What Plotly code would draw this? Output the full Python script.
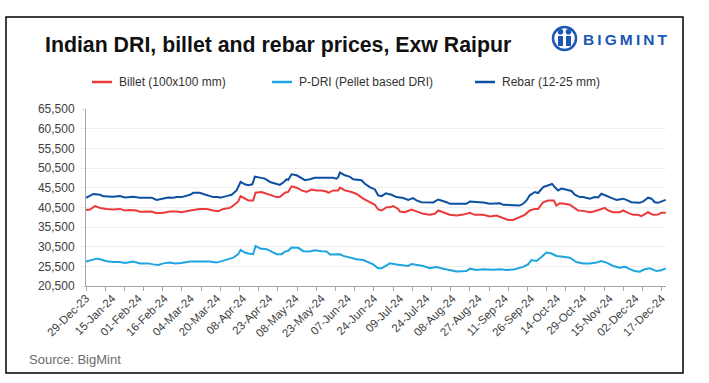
import plotly.graph_objects as go

# ---------------- data (x = trading-day position, 0 = 29-Dec-23) ----------------
tick_labels = ["29-Dec-23", "15-Jan-24", "01-Feb-24", "16-Feb-24", "04-Mar-24", "20-Mar-24",
               "08-Apr-24", "23-Apr-24", "08-May-24", "23-May-24", "07-Jun-24", "24-Jun-24",
               "09-Jul-24", "24-Jul-24", "08-Aug-24", "27-Aug-24", "11-Sep-24", "26-Sep-24",
               "14-Oct-24", "29-Oct-24", "15-Nov-24", "02-Dec-24", "17-Dec-24"]

billet_x = [0, 1.9, 4.2, 6.6, 9.7, 12.8, 15.9, 18.3, 20.6, 23.8, 25.3, 30.8, 33.1, 36.3, 39.4,
            42.5, 44.8, 47.2, 49.5, 53.4, 56.6, 59.7, 62, 64.4, 67.5, 69.1, 71.4, 72.5, 74.5, 76.1,
            78.4, 79.5, 82.3, 84.7, 87, 89.4, 90.9, 93.3, 94.8, 96.4, 98.8, 101.1, 103.4, 105.8, 108.1,
            110.5, 112.8, 113.6, 115.9, 118.3, 119.1, 121.4, 124.5, 126.9, 130, 133.1, 135.5, 137, 138.6, 141,
            142.5, 144.1, 146.4, 147.2, 149.5, 152.7, 155, 158.1, 161.3, 163.6, 165.2, 167.5, 170.6, 173.8, 176.9,
            180, 182.3, 186.3, 189.4, 192.5, 195.6, 198, 200.3, 201.9, 203.4, 205.8, 208.1, 210.5, 212, 214.4,
            216.7, 219.4, 220.6, 222.2, 224.5, 226.9, 229.2, 230.8, 233.1, 236.3, 238.6, 241.7, 243.3, 244.8, 247.2,
            250.3, 251.9, 254.2, 256.6, 258.9, 260.5, 263.6, 265.9, 268.3, 269.8, 271.9]
billet_y = [39850, 39950, 40800, 40350, 40050, 39950, 40100, 39700, 39850, 39700, 39350, 39450, 39000, 39100, 39450,
            39450, 39250, 39600, 39750, 40050, 40100, 39700, 39500, 40100, 40350, 40950, 42000, 43350, 42700, 42250,
            42250, 44200, 44400, 43950, 43350, 43100, 43100, 44200, 44400, 45850, 45500, 44800, 44400, 45000, 44800,
            44800, 44550, 44200, 44800, 44800, 45500, 44800, 44400, 43900, 42700, 41800, 41150, 39950, 39700, 40550,
            40550, 40800, 40100, 39450, 39250, 39950, 39450, 38850, 38600, 38850, 39700, 39250, 38600, 38400, 38650,
            39100, 38600, 38600, 38150, 38400, 37800, 37300, 37300, 37700, 38150, 38600, 39700, 40100, 40100, 41800,
            42250, 42250, 40950, 41550, 41400, 41150, 40300, 39700, 39600, 39250, 39500, 40100, 40350, 39700, 39250,
            39250, 39700, 39100, 38600, 38600, 38250, 39250, 38600, 38650, 39100, 39100]

pdri_x = [0, 1.9, 5, 6.6, 9.7, 12.8, 15.9, 18.3, 22.2, 25.3, 29.2, 31.6, 33.9, 36.3, 39.4, 41.7, 44.8, 48.8,
          53.4, 55.8, 58.1, 61.3, 63.6, 65.9, 69.1, 71.4, 72.5, 74.5, 76.1, 78.4, 79.5, 81.6, 84.7, 87, 89.4,
          91.7, 93.3, 94.8, 96.4, 99.5, 101.9, 105, 107.3, 110.5, 112.8, 114.4, 117.5, 119.1, 120.6, 123.8,
          126.9, 130, 132.3, 134.7, 137, 138.6, 141, 142.5, 145.6, 148.8, 151.1, 152.7, 155, 158.1, 161.3,
          164.4, 167.5, 170.6, 173.8, 178.4, 180, 183.1, 186.3, 190.9, 194.1, 197.2, 201.1, 205, 207.3, 208.9,
          211.3, 213.6, 215.9, 218.3, 220.6, 223.8, 226.9, 230, 233.1, 236.3, 239.4, 241.7, 244.1, 247.2, 250.3,
          252.7, 255, 257.3, 259.7, 262, 264.4, 267.5, 269.8, 271.9]
pdri_y = [26700, 27050, 27450, 27300, 26800, 26600, 26600, 26350, 26700, 26250, 26250, 26000, 25850, 26250, 26450,
          26250, 26350, 26700, 26700, 26600, 26700, 26450, 26800, 27050, 27700, 28600, 29700, 29000, 28750, 28600,
          30700, 30050, 29850, 29250, 28600, 28600, 29250, 29450, 30300, 30200, 29350, 29250, 29600, 29350, 29250,
          28500, 28600, 28600, 28150, 27700, 27300, 27100, 26600, 26000, 25000, 25000, 25750, 26250, 25950, 25750,
          25600, 26100, 25850, 25600, 25050, 25350, 24900, 24550, 24200, 24300, 24900, 24550, 24750, 24650, 24750,
          24550, 24750, 25350, 26000, 27100, 26850, 27900, 29000, 28750, 28150, 27950, 27700, 26600, 26250, 26250,
          26450, 26850, 26450, 25600, 25150, 25400, 24750, 24300, 24150, 24750, 25000, 24300, 24500, 25000]

rebar_x = [0, 3.4, 6.6, 8.1, 12.8, 15.9, 18.3, 22.2, 25.3, 30.8, 33.1, 36.3, 38.6, 40.9, 42.5, 44.8, 46.4, 48.8,
           50.3, 53.4, 55, 57.3, 59.7, 62, 62.8, 65.9, 68.3, 70.6, 71.4, 72.5, 74.5, 76.1, 78, 79.2, 81.6, 83.9,
           86.3, 88.6, 90.9, 92.8, 94.1, 94.8, 96.4, 98.8, 101.1, 102.7, 105, 107.3, 115.9, 117.5, 118.3, 119.1,
           121.4, 123.8, 125.3, 129.2, 130.8, 133.1, 135.5, 137, 138.6, 140.6, 143.3, 145.6, 148.8, 151.1, 153.4,
           155, 157.3, 162.8, 165.2, 167.5, 169.1, 170.6, 178.4, 180, 186.3, 189.4, 192.5, 194.1, 195.6, 198.8,
           201.1, 203.4, 205, 206.6, 208.1, 210.5, 212, 214.4, 217.5, 218.6, 219.8, 221.4, 223, 225.3, 227.7,
           229.2, 231.6, 233.1, 236.3, 238.6, 240.2, 241.7, 244.1, 247.2, 248.8, 251.9, 253.4, 255.8, 259.7,
           261.3, 263.6, 265.2, 266.7, 268.3, 270.6, 271.9]
rebar_y = [42900, 43900, 43700, 43300, 43200, 43350, 43000, 43200, 42950, 42950, 42400, 42700, 43000, 42950, 43100,
           43100, 43350, 43700, 44200, 44200, 43900, 43550, 43100, 43100, 42950, 43350, 43700, 44800, 45600, 46950,
           46350, 46100, 46350, 48300, 48050, 47800, 46950, 46500, 46200, 46950, 47650, 47450, 48900, 48650, 47800,
           47400, 47650, 48000, 48000, 47800, 48250, 49350, 48650, 48250, 47650, 47400, 46500, 45650, 45050, 43550,
           43350, 44050, 43700, 43100, 42850, 42400, 42850, 42250, 41800, 41750, 42500, 42150, 41800, 41400, 41400,
           42000, 41750, 41400, 41400, 41550, 41150, 41050, 40900, 40950, 41400, 42250, 43550, 44400, 44150, 45650,
           46250, 46450, 45650, 44800, 45250, 44900, 44650, 43700, 43100, 43100, 42700, 43100, 43000, 43950, 43350,
           42700, 42400, 42700, 42400, 41800, 41650, 42000, 42950, 42700, 41800, 41650, 42150, 42400]

y_ticks = [20500, 25500, 30500, 35500, 40500, 45500, 50500, 55500, 60500, 65500]

series = [
    ("Billet (100x100 mm)", billet_x, billet_y, "#EC3A3A"),
    ("P-DRI (Pellet based DRI)", pdri_x, pdri_y, "#1EA5E0"),
    ("Rebar (12-25 mm)", rebar_x, rebar_y, "#0D4FA0"),
]

# ---------------- layout helpers (pixel -> paper) ----------------
W, H = 709, 383
L, R, T, B = 86, 666, 109, 286


def px(x):
    return (x - L) / (R - L)


def py(y):
    return (B - y) / (B - T)


FONT = "Liberation Sans, Arial, sans-serif"

fig = go.Figure()
for name, xs, ys, col in series:
    fig.add_trace(go.Scatter(x=xs, y=ys, name=name, mode="lines",
                             line=dict(color=col, width=2), showlegend=False))

label_pos = [i * 270 / (len(tick_labels) - 1) for i in range(len(tick_labels))]
minor_pos = list(range(0, 271, 9))

fig.update_layout(
    width=W, height=H,
    margin=dict(l=L, r=W - R, t=T, b=H - B),
    paper_bgcolor="white", plot_bgcolor="white",
    font=dict(family=FONT, color="#404040"),
    xaxis=dict(range=[0, 272], tickmode="array", tickvals=label_pos, ticktext=tick_labels,
               tickangle=-45, ticks="", showgrid=False, zeroline=False,
               showline=True, linecolor="#a6a6a6", linewidth=1,
               tickfont=dict(size=11.5, color="#404040", family=FONT),
               minor=dict(tickmode="array", tickvals=minor_pos, ticks="outside", ticklen=4,
                          tickcolor="#a6a6a6", showgrid=False)),
    yaxis=dict(range=[20500, 65500], tickmode="array", tickvals=y_ticks, tickformat=",d",
               showgrid=True, gridcolor="#efefef", gridwidth=1, zeroline=False,
               showline=True, linecolor="#a6a6a6", linewidth=1,
               ticks="outside", ticklen=4, tickcolor="#e6e6e6",
               tickfont=dict(size=12, color="#404040"), ticklabelstandoff=4),
)

shapes = []
annotations = []

# outer frame
shapes.append(dict(type="rect", xref="paper", yref="paper", x0=px(6), x1=px(683), y0=py(17), y1=py(373),
                   line=dict(color="black", width=1.5), fillcolor="rgba(0,0,0,0)", layer="below"))

# title
annotations.append(dict(text="<b>Indian DRI, billet and rebar prices, Exw Raipur</b>", xref="paper", yref="paper",
                        x=px(43), y=py(45), xanchor="left", yanchor="middle", showarrow=False,
                        font=dict(size=21.3, color="#111111", family=FONT)))

# manual legend
legend_pos = [(92, 117), (272, 297), (475, 500)]
for (name, xs, ys, col), (lx, tx) in zip(series, legend_pos):
    shapes.append(dict(type="line", xref="paper", yref="paper", x0=px(lx), x1=px(lx + 20),
                       y0=py(82), y1=py(82), line=dict(color=col, width=2.5)))
    annotations.append(dict(text=name, xref="paper", yref="paper", x=px(tx), y=py(82),
                            xanchor="left", yanchor="middle", showarrow=False,
                            font=dict(size=12, color="#333333", family=FONT)))

# BIGMINT logo
blue = "#1B57B3"
shapes.append(dict(type="circle", xref="paper", yref="paper", x0=px(553), x1=px(576), y0=py(27), y1=py(50),
                   line=dict(color=blue, width=2.5)))
for hx in (560.5, 568.5):
    shapes.append(dict(type="circle", xref="paper", yref="paper", x0=px(hx - 2.8), x1=px(hx + 2.8),
                       y0=py(29), y1=py(34.6), fillcolor=blue, line=dict(width=0)))
    shapes.append(dict(type="rect", xref="paper", yref="paper", x0=px(hx - 2.5), x1=px(hx + 2.5),
                       y0=py(36), y1=py(46), fillcolor=blue, line=dict(width=0)))
annotations.append(dict(text="<b>B\u2009I\u2009G\u2009M\u2009I\u2009N\u2009T</b>", xref="paper", yref="paper",
                        x=px(581), y=py(40), xanchor="left", yanchor="middle", showarrow=False,
                        font=dict(size=15.5, color=blue, family=FONT)))

# source
annotations.append(dict(text="Source: BigMint", xref="paper", yref="paper", x=px(27), y=py(359),
                        xanchor="left", yanchor="middle", showarrow=False,
                        font=dict(size=13, color="#6b6b6b", family=FONT)))

fig.update_layout(shapes=shapes, annotations=annotations)
fig.write_html("out.html", config={"displayModeBar": False},
               post_script="document.body.style.margin='0';document.body.style.overflow='hidden';")
